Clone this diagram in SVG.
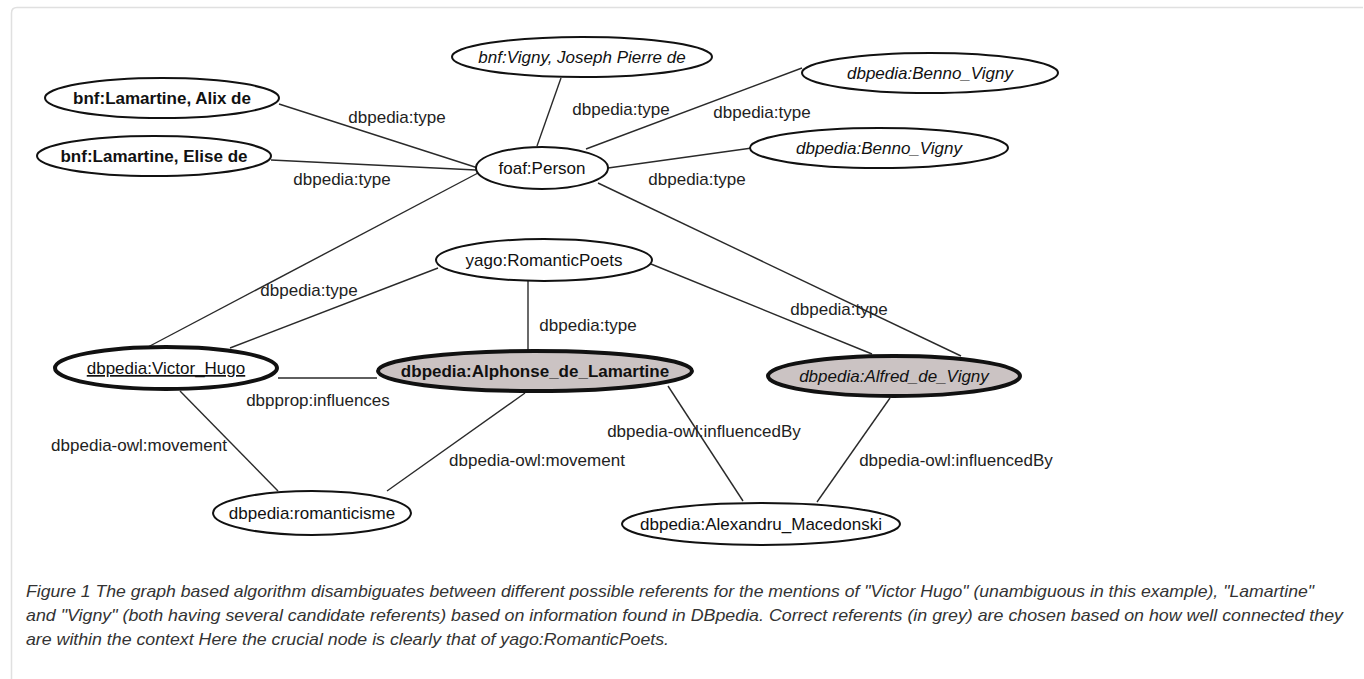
<svg xmlns="http://www.w3.org/2000/svg" width="1364" height="679" viewBox="0 0 1364 679">
<style>
.n{fill:#fff;stroke:#111;stroke-width:2}
.k{stroke-width:4}
.g{fill:#cbc3c3}
.t{font-family:"Liberation Sans",Arial,sans-serif;font-size:17px;fill:#111;text-anchor:middle}
.l{font-family:"Liberation Sans",Arial,sans-serif;font-size:17px;fill:#222;text-anchor:middle}
.e line{stroke:#2a2a2a;stroke-width:1.4}
.c{font-family:"Liberation Sans",Arial,sans-serif;font-size:17px;font-style:italic;fill:#333}
</style>
<rect width="1364" height="679" fill="#fff"/>
<path d="M11.5 690 V13 Q11.5 7.5 17 7.5 H1363" fill="none" stroke="#e0e0e0" stroke-width="1.5"/>
<g id="connectors" class="e">
<line x1="279" y1="104" x2="478" y2="168"/>
<line x1="271" y1="160" x2="476" y2="170"/>
<line x1="561" y1="78" x2="537" y2="146"/>
<line x1="802" y1="68" x2="586" y2="149"/>
<line x1="752" y1="148" x2="608" y2="168"/>
<line x1="598" y1="183" x2="961" y2="356"/>
<line x1="478" y1="173" x2="148" y2="347"/>
<line x1="438" y1="268" x2="230" y2="348"/>
<line x1="528" y1="281" x2="528" y2="350"/>
<line x1="651" y1="264" x2="872" y2="354"/>
<line x1="278" y1="378" x2="377" y2="378"/>
<line x1="180" y1="391" x2="278" y2="491"/>
<line x1="525" y1="393" x2="387" y2="491"/>
<line x1="668" y1="386" x2="743" y2="501"/>
<line x1="890" y1="398" x2="817" y2="502"/>
</g>
<g id="edge-labels">
<text class="l" x="397" y="123">dbpedia:type</text>
<text class="l" x="342" y="185">dbpedia:type</text>
<text class="l" x="621" y="115">dbpedia:type</text>
<text class="l" x="762" y="118">dbpedia:type</text>
<text class="l" x="697" y="185">dbpedia:type</text>
<text class="l" x="309" y="296">dbpedia:type</text>
<text class="l" x="588" y="331">dbpedia:type</text>
<text class="l" x="839" y="315">dbpedia:type</text>
<text class="l" x="318" y="406">dbpprop:influences</text>
<text class="l" x="139" y="451">dbpedia-owl:movement</text>
<text class="l" x="537" y="466">dbpedia-owl:movement</text>
<text class="l" x="704" y="437">dbpedia-owl:influencedBy</text>
<text class="l" x="956" y="466">dbpedia-owl:influencedBy</text>
</g>
<g id="alix"><ellipse class="n" cx="162" cy="98" rx="117" ry="20"/><text class="t" x="162" y="104" font-weight="bold">bnf:Lamartine, Alix de</text></g>
<g id="elise"><ellipse class="n" cx="154" cy="156" rx="117" ry="20"/><text class="t" x="154" y="162" font-weight="bold">bnf:Lamartine, Elise de</text></g>
<g id="bnf-vigny"><ellipse class="n" cx="582" cy="57" rx="130" ry="20"/><text class="t" x="582" y="63" font-style="italic">bnf:Vigny, Joseph Pierre de</text></g>
<g id="benno1"><ellipse class="n" cx="930" cy="73" rx="128" ry="20"/><text class="t" x="930" y="79" font-style="italic">dbpedia:Benno_Vigny</text></g>
<g id="benno2"><ellipse class="n" cx="879" cy="148" rx="129" ry="20"/><text class="t" x="879" y="154" font-style="italic">dbpedia:Benno_Vigny</text></g>
<g id="foaf-person"><ellipse class="n" cx="542" cy="168" rx="66" ry="21"/><text class="t" x="542" y="174">foaf:Person</text></g>
<g id="yago"><ellipse class="n" cx="544" cy="260" rx="108" ry="21"/><text class="t" x="544" y="266">yago:RomanticPoets</text></g>
<g id="victor-hugo"><ellipse class="n k" cx="166" cy="368" rx="111" ry="21"/><text class="t" x="166" y="374" text-decoration="underline">dbpedia:Victor_Hugo</text></g>
<g id="lamartine"><ellipse class="n k g" cx="535" cy="371" rx="157" ry="20"/><text class="t" x="535" y="377" font-weight="bold">dbpedia:Alphonse_de_Lamartine</text></g>
<g id="alfred"><ellipse class="n k g" cx="894" cy="376" rx="126" ry="20"/><text class="t" x="894" y="382" font-style="italic">dbpedia:Alfred_de_Vigny</text></g>
<g id="romanticisme"><ellipse class="n" cx="312" cy="513" rx="99" ry="22"/><text class="t" x="312" y="519">dbpedia:romanticisme</text></g>
<g id="macedonski"><ellipse class="n" cx="761" cy="524" rx="139" ry="21"/><text class="t" x="761" y="530">dbpedia:Alexandru_Macedonski</text></g>
<g id="caption">
<text class="c" x="26" y="597" textLength="1288" lengthAdjust="spacingAndGlyphs">Figure 1 The graph based algorithm disambiguates between different possible referents for the mentions of "Victor Hugo" (unambiguous in this example), "Lamartine"</text>
<text class="c" x="26" y="621" textLength="1317" lengthAdjust="spacingAndGlyphs">and "Vigny" (both having several candidate referents) based on information found in DBpedia. Correct referents (in grey) are chosen based on how well connected they</text>
<text class="c" x="26" y="645" textLength="643" lengthAdjust="spacingAndGlyphs">are within the context Here the crucial node is clearly that of yago:RomanticPoets.</text>
</g>
</svg>
